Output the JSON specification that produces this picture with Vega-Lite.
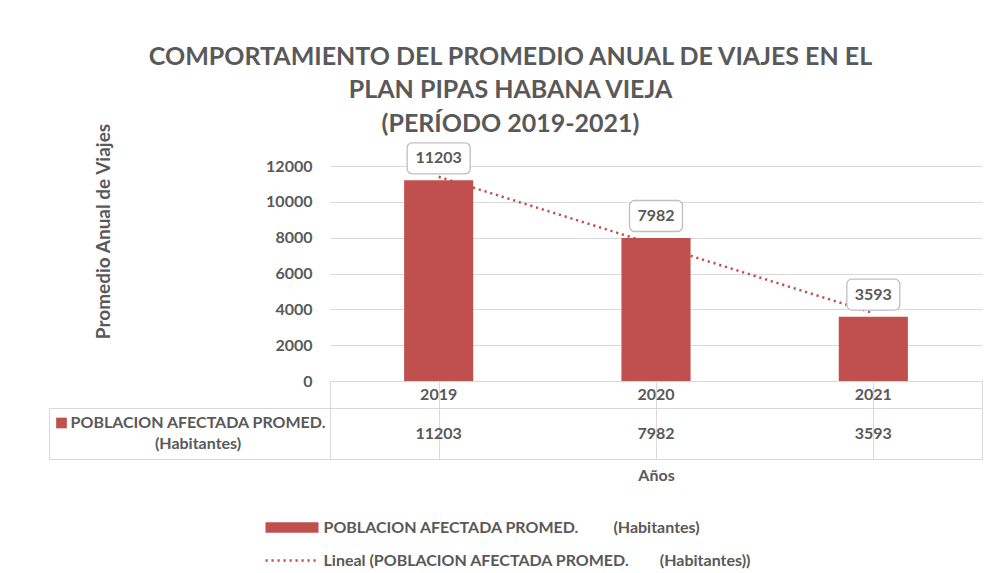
{
  "$schema": "https://vega.github.io/schema/vega-lite/v6.json",
  "autosize": {"type": "pad"},
  "padding": {"left": 48, "top": 44, "right": 10, "bottom": 1},
  "background": "white",
  "bounds": "flush",
  "columns": 2,
  "spacing": 0,
  "align": "each",
  "title": {
    "text": ["COMPORTAMIENTO DEL PROMEDIO ANUAL DE VIAJES EN EL", "PLAN PIPAS HABANA VIEJA", "(PERÍODO 2019-2021)"],
    "anchor": "middle",
    "frame": "bounds",
    "font": "Lato",
    "fontSize": 25,
    "fontWeight": "bold",
    "color": "#595959",
    "lineHeight": 33.5,
    "offset": -14,
    "dx": -5
  },
  "config": {
    "font": "Lato",
    "view": {"stroke": null}
  },
  "datasets": {
    "tabla": [
      {"anio": "2019", "valor": 11203, "tendencia": 11397.67},
      {"anio": "2020", "valor": 7982, "tendencia": 7592.67},
      {"anio": "2021", "valor": 3593, "tendencia": 3787.67}
    ],
    "serie": [
      {"nombre": "POBLACION AFECTADA PROMED.\n(Habitantes)"}
    ]
  },
  "resolve": {"scale": {"x": "independent", "y": "independent"}},
  "concat": [
    {
      "width": 281,
      "height": 215,
      "data": {"values": [{"a": 1}]},
      "mark": {"type": "text", "text": ""}
    },
    {
      "width": 652,
      "height": 215,
      "data": {"name": "tabla"},
      "encoding": {
        "x": {"field": "anio", "type": "ordinal", "scale": {"paddingInner": 0.682, "paddingOuter": 0.341}, "axis": null}
      },
      "layer": [
        {
          "mark": {"type": "line", "color": "#c0504d", "strokeWidth": 2.5},
          "encoding": {
            "y": {
              "field": "tendencia",
              "type": "quantitative",
              "scale": {"domain": [0, 12000], "nice": false},
              "axis": {
                "values": [0, 2000, 4000, 6000, 8000, 10000, 12000],
                "tickCount": 10,
                "format": "d",
                "labelOverlap": false,
                "grid": true,
                "gridColor": "#d9d9d9",
                "domain": false,
                "ticks": false,
                "labelPadding": 18,
                "labelFont": "Lato",
                "labelFontSize": 16,
                "labelFontWeight": "bold",
                "labelColor": "#595959",
                "title": "Promedio Anual de Viajes",
                "titleFont": "Lato",
                "titleFontSize": 19,
                "titleFontWeight": "bold",
                "titleColor": "#595959",
                "titleX": -227,
                "titleY": 65,
                "titleAngle": 270,
                "titleBaseline": "middle",
                "titleAlign": "center"
              }
            },
            "strokeDash": {
              "datum": "Lineal (POBLACION AFECTADA PROMED.\u00a0\u00a0\u00a0\u00a0\u00a0\u00a0\u00a0 (Habitantes))",
              "type": "nominal",
              "scale": {"range": [[2.2, 3.8]]},
              "legend": {
                "orient": "none",
                "legendX": 235,
                "legendY": 386.5,
                "title": null,
                "padding": 0,
                "symbolType": "M-4.82,0H4.82",
                "symbolSize": 121,
                "symbolStrokeColor": "#c0504d",
                "symbolStrokeWidth": 2.5,
                "labelFont": "Lato",
                "labelFontSize": 16,
                "labelFontWeight": "bold",
                "labelColor": "#595959",
                "labelLimit": 1000,
                "labelOffset": 23.5
              }
            }
          }
        },
        {
          "mark": {"type": "bar"},
          "encoding": {
            "y": {"field": "valor", "type": "quantitative"},
            "color": {
              "datum": "POBLACION AFECTADA PROMED.\u00a0\u00a0\u00a0\u00a0\u00a0\u00a0\u00a0\u00a0 (Habitantes)",
              "type": "nominal",
              "scale": {"range": ["#c0504d"]},
              "legend": {
                "orient": "none",
                "legendX": 235,
                "legendY": 353.5,
                "title": null,
                "padding": 0,
                "symbolType": "M-4.82,-0.97H4.82V0.97H-4.82Z",
                "symbolSize": 121,
                "symbolStrokeWidth": 0,
                "symbolOpacity": 1,
                "labelFont": "Lato",
                "labelFontSize": 16,
                "labelFontWeight": "bold",
                "labelColor": "#595959",
                "labelLimit": 1000,
                "labelOffset": 23.5
              }
            }
          }
        },
        {
          "mark": {"type": "point", "filled": true, "fill": "white", "stroke": "#bfbfbf", "strokeWidth": 1.3, "opacity": 1, "yOffset": -22},
          "encoding": {
            "y": {"field": "valor", "type": "quantitative"},
            "shape": {
              "condition": {"test": "datum.valor >= 10000", "value": "M-0.84,-0.492H0.84A0.16,0.16 0 0 1 1,-0.332V0.332A0.16,0.16 0 0 1 0.84,0.492H-0.84A0.16,0.16 0 0 1 -1,0.332V-0.332A0.16,0.16 0 0 1 -0.84,-0.492Z"},
              "value": "M-0.811,-0.585H0.811A0.189,0.189 0 0 1 1,-0.396V0.396A0.189,0.189 0 0 1 0.811,0.585H-0.811A0.189,0.189 0 0 1 -1,0.396V-0.396A0.189,0.189 0 0 1 -0.811,-0.585Z"
            },
            "size": {"condition": {"test": "datum.valor >= 10000", "value": 3969}, "value": 2809}
          }
        },
        {
          "mark": {"type": "text", "font": "Lato", "fontSize": 16, "fontWeight": "bold", "color": "#595959", "baseline": "middle", "dy": -22},
          "encoding": {
            "y": {"field": "valor", "type": "quantitative"},
            "text": {"field": "valor", "type": "quantitative", "format": "d"}
          }
        }
      ]
    },
    {
      "width": 281,
      "height": 27,
      "data": {"values": [{"a": 1}]},
      "mark": {"type": "text", "text": ""}
    },
    {
      "width": 652,
      "height": 27,
      "data": {"name": "tabla"},
      "view": {"stroke": "#d9d9d9"},
      "mark": {"type": "text", "font": "Lato", "fontSize": 16, "fontWeight": "bold", "color": "#595959", "baseline": "middle"},
      "encoding": {
        "x": {
          "field": "anio",
          "type": "ordinal",
          "scale": {"paddingInner": 0, "paddingOuter": 0},
          "axis": {"grid": true, "bandPosition": 0, "gridColor": "#d9d9d9", "labels": false, "ticks": false, "domain": false, "title": null}
        },
        "text": {"field": "anio"}
      }
    },
    {
      "width": 281,
      "height": 51,
      "data": {"name": "serie"},
      "view": {"stroke": "#d9d9d9"},
      "layer": [
        {
          "mark": {"type": "point", "shape": "square", "filled": true, "color": "#c0504d", "opacity": 1, "size": 114, "xOffset": -128, "yOffset": -10.5},
          "encoding": {}
        },
        {
          "mark": {"type": "text", "font": "Lato", "fontSize": 16, "fontWeight": "bold", "color": "#595959", "baseline": "middle", "align": "center", "lineBreak": "\n", "lineHeight": 21, "dx": 8.5, "dy": -10.5},
          "encoding": {"text": {"field": "nombre"}}
        }
      ]
    },
    {
      "width": 652,
      "height": 51,
      "data": {"name": "tabla"},
      "view": {"stroke": "#d9d9d9"},
      "mark": {"type": "text", "font": "Lato", "fontSize": 16, "fontWeight": "bold", "color": "#595959", "baseline": "middle"},
      "encoding": {
        "x": {
          "field": "anio",
          "type": "ordinal",
          "scale": {"paddingInner": 0, "paddingOuter": 0},
          "axis": {
            "orient": "bottom",
            "grid": true,
            "bandPosition": 0,
            "gridColor": "#d9d9d9",
            "labels": false,
            "ticks": false,
            "domain": false,
            "title": "Años",
            "titleFont": "Lato",
            "titleFontSize": 16,
            "titleFontWeight": "bold",
            "titleColor": "#595959",
            "titlePadding": 8
          }
        },
        "text": {"field": "valor", "type": "quantitative", "format": "d"}
      }
    }
  ]
}
